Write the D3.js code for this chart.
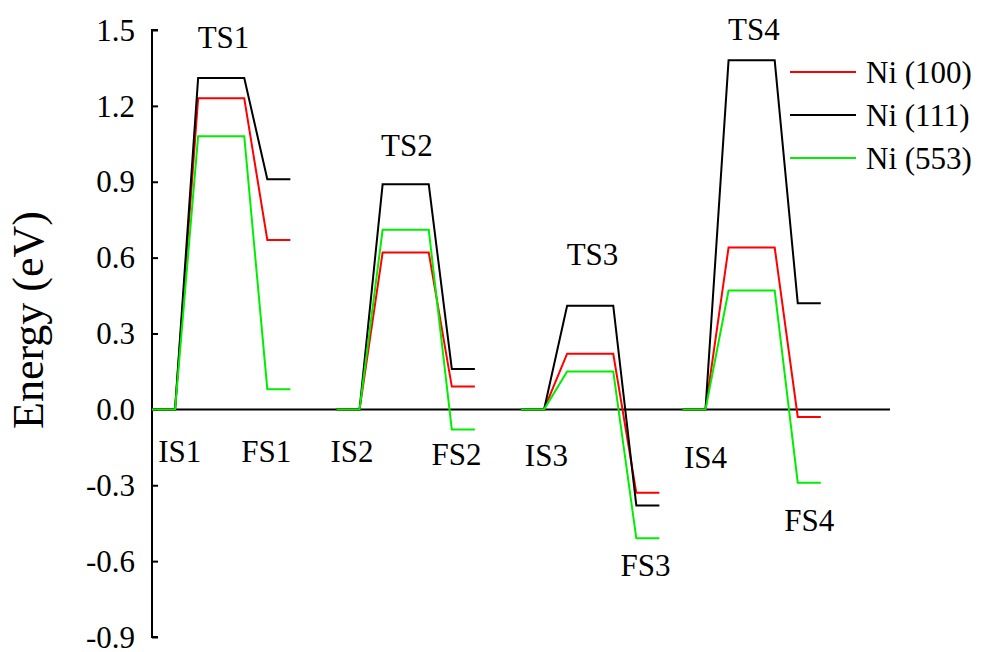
<!DOCTYPE html>
<html>
<head>
<meta charset="UTF-8">
<title>Energy profile</title>
<script src="https://d3js.org/d3.v7.min.js"></script>
<style>
  body { margin: 0; background: #fff; }
  svg text { font-family: "Liberation Serif", "Times New Roman", Times, serif; fill: #000; }
</style>
</head>
<body>
<div id="chart"></div>
<script>
// series
const seriesNames = ["Ni (100)", "Ni (111)", "Ni (553)"];
const seriesColors = ["#ff0000", "#000000", "#00ee00"];

// reaction coordinate where each step (IS -> TS -> FS) begins
const stepStart = [0, 8, 16, 23];

// energies (eV), relative to IS of every step
const tsNi100 = [1.23, 0.62, 0.22, 0.64];
const tsNi111 = [1.31, 0.89, 0.41, 1.38];
const tsNi553 = [1.08, 0.71, 0.15, 0.47];
const fsNi100 = [0.67, 0.09, -0.33, -0.03];
const fsNi111 = [0.91, 0.16, -0.38, 0.42];
const fsNi553 = [0.08, -0.08, -0.51, -0.29];

// state labels: text, reaction coordinate, energy of baseline
const labelText = ["TS1", "TS2", "TS3", "TS4", "IS1", "FS1", "IS2", "FS2", "IS3", "IS4", "FS3", "FS4"];
const labelX    = [3.1, 11.05, 19.1, 26.1, 1.2, 4.95, 8.67, 13.2, 17.1, 24.0, 21.4, 28.5];
const labelY    = [1.43, 1.0, 0.57, 1.46, -0.21, -0.21, -0.21, -0.22, -0.225, -0.23, -0.66, -0.48];

const yTicks = [-0.9, -0.6, -0.3, 0.0, 0.3, 0.6, 0.9, 1.2, 1.5];

const tsAll = [tsNi100, tsNi111, tsNi553];
const fsAll = [fsNi100, fsNi111, fsNi553];

const width = 990, height = 652;
const svg = d3.select("#chart").append("svg")
  .attr("width", width).attr("height", height);

const x = d3.scaleLinear().domain([0, 32]).range([152, 890]);
const y = d3.scaleLinear().domain([-0.9, 1.5]).range([637, 30]);

// zero line
svg.append("line")
  .attr("x1", x(0)).attr("x2", x(32))
  .attr("y1", y(0)).attr("y2", y(0))
  .attr("stroke", "#000").attr("stroke-width", 2);

// y axis (ticks pointing inward), plain hyphen for minus
const fmt = d3.format(".1f");
const yAxis = d3.axisRight(y).tickValues(yTicks).tickSize(6)
  .tickFormat(d => fmt(d).replace("\u2212", "-"));
const gy = svg.append("g").attr("transform", `translate(${x(0)},0)`).call(yAxis);
gy.attr("font-family", null);
gy.select(".domain").attr("stroke", "#000").attr("stroke-width", 2)
  .attr("d", `M6,${y(1.5)}H0V${y(-0.9)}H6`);
gy.selectAll(".tick line").attr("stroke", "#000").attr("stroke-width", 2);
gy.selectAll(".tick text")
  .attr("x", -17).attr("text-anchor", "end")
  .attr("dy", "0.33em")
  .style("font-size", "31px");

svg.append("text")
  .attr("transform", "translate(43,320) rotate(-90)")
  .attr("text-anchor", "middle")
  .style("font-size", "44px")
  .text("Energy (eV)");

// energy profile paths
const line = d3.line().x(d => x(d[0])).y(d => y(d[1]));
seriesNames.forEach((name, si) => {
  stepStart.forEach((s, k) => {
    const ts = tsAll[si][k], fs = fsAll[si][k];
    const pts = [[s, 0], [s + 1, 0], [s + 2, ts], [s + 4, ts], [s + 5, fs], [s + 6, fs]];
    svg.append("path")
      .attr("d", line(pts))
      .attr("fill", "none")
      .attr("stroke", seriesColors[si])
      .attr("stroke-width", 2);
  });
});

// state labels
svg.append("g").selectAll("text")
  .data(labelText)
  .join("text")
  .attr("x", (d, i) => x(labelX[i]))
  .attr("y", (d, i) => y(labelY[i]))
  .attr("text-anchor", "middle")
  .style("font-size", "31px")
  .text(d => d);

// legend
const legend = svg.append("g").attr("transform", "translate(790,72)");
seriesNames.forEach((name, i) => {
  const g = legend.append("g").attr("transform", `translate(0,${i * 43})`);
  g.append("line").attr("x1", 0).attr("x2", 66).attr("y1", 0).attr("y2", 0)
    .attr("stroke", seriesColors[i]).attr("stroke-width", 2);
  g.append("text").attr("x", 76).attr("y", 0).attr("dy", "0.35em")
    .style("font-size", "31px").text(name);
});
</script>
</body>
</html>
